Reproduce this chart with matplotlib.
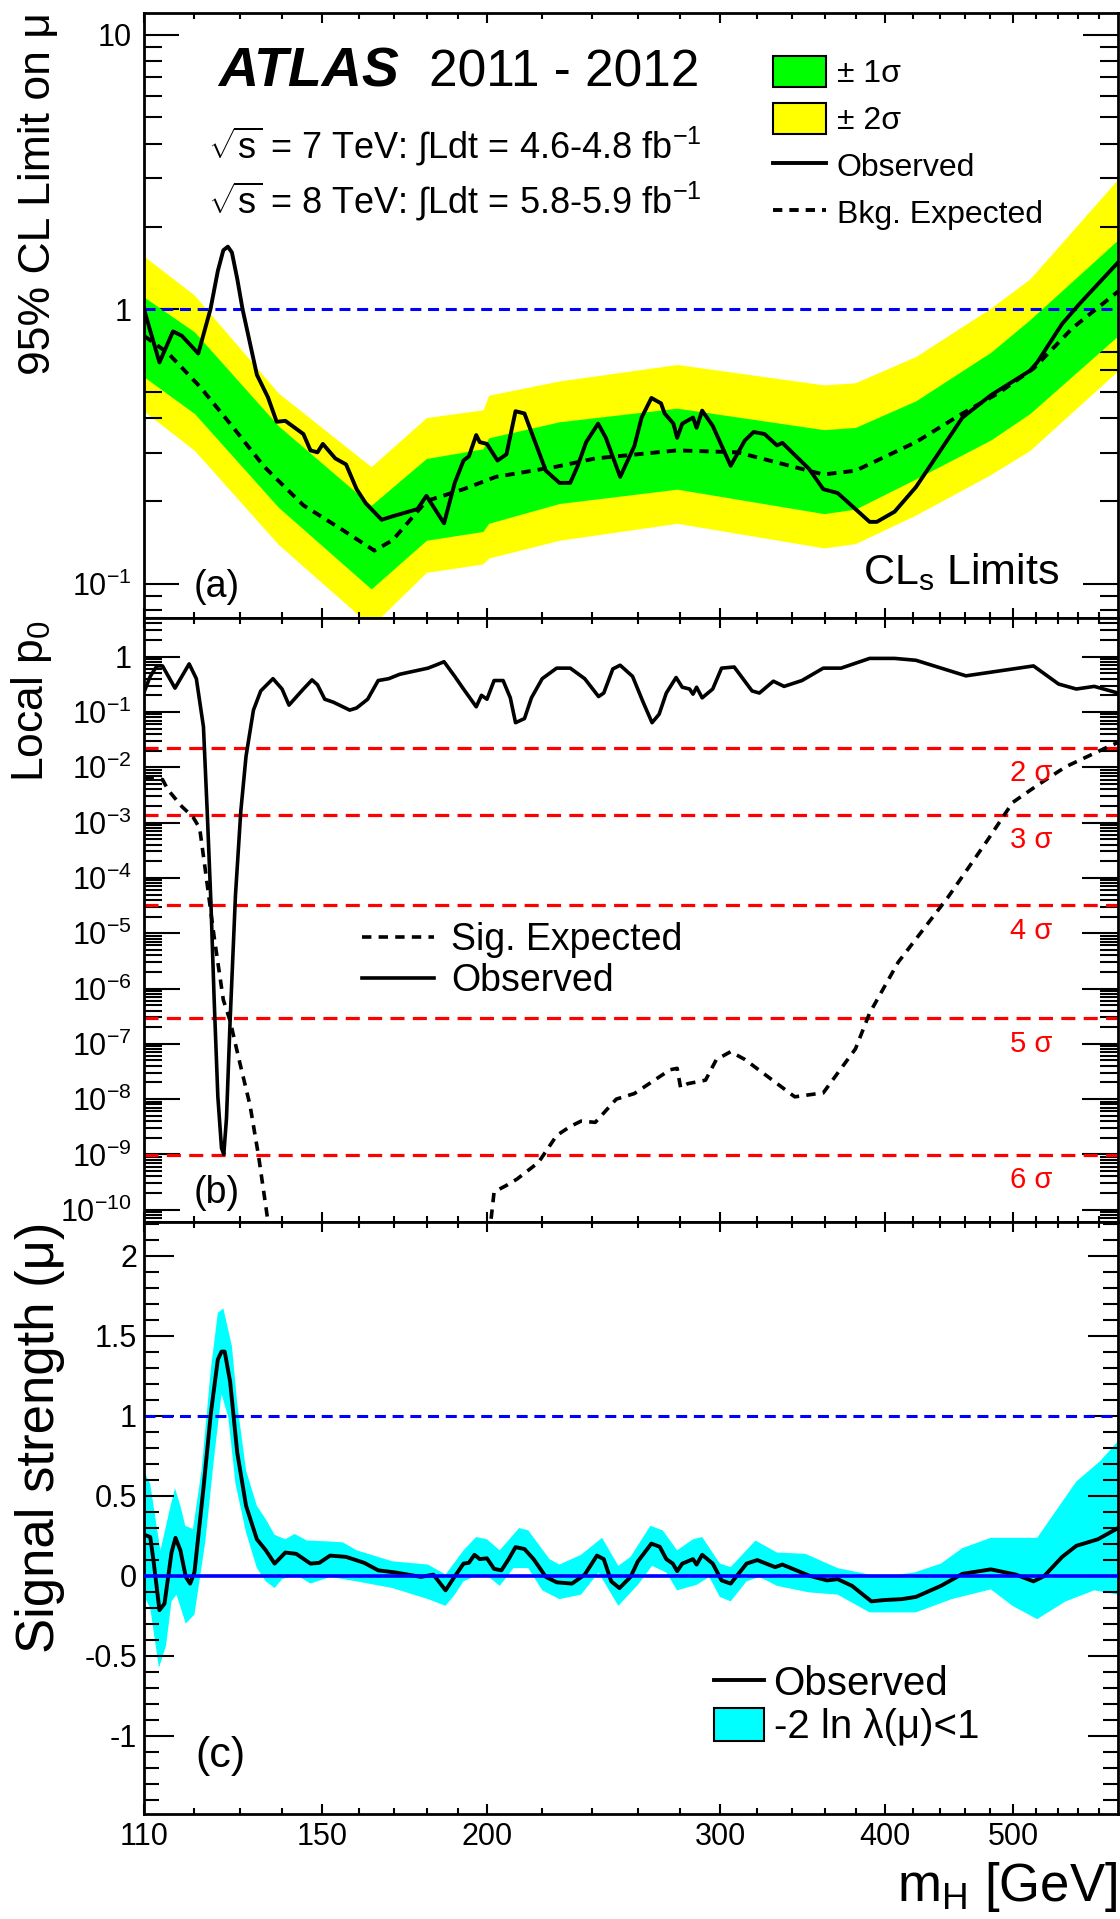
import matplotlib

matplotlib.use("Agg")
import matplotlib.pyplot as plt
import numpy as np
from matplotlib.lines import Line2D
from matplotlib.patches import Patch
from matplotlib.ticker import FixedLocator, FuncFormatter, LogLocator, MultipleLocator, NullFormatter

plt.rcParams.update(
    {
        "font.family": ["Liberation Sans", "DejaVu Sans"],
        "mathtext.fontset": "custom",
        "mathtext.rm": "Liberation Sans",
        "mathtext.it": "Liberation Sans:italic",
        "mathtext.bf": "Liberation Sans:bold",
    }
)

GREEN = "#00ff00"
YELLOW = "#ffff00"
CYAN = "#00ffff"
BLUE = "#0000ff"
RED = "#ff0000"

# --- panel (a): 95% CL limit on mu
lim_mass_obs = [110.0, 111.0, 113.0, 115.7, 117.5, 120.9, 123.5, 125.1, 126.3, 127.3,
                128.2, 129.4, 130.6, 133.9, 136.5, 138.6, 140.7, 145.2, 147.0, 148.8,
                150.2, 153.5, 156.4, 159.3, 161.9, 166.4, 169.6, 177.1, 179.9, 185.5,
                189.0, 191.9, 193.7, 196.2, 197.4, 199.9, 203.6, 206.8, 210.1, 213.4,
                217.4, 221.5, 226.8, 231.1, 234.0, 237.6, 242.6, 245.9, 252.1, 258.4,
                261.7, 266.2, 270.7, 272.4, 276.6, 278.4, 280.9, 286.2, 288.0, 290.8,
                296.2, 305.6, 313.3, 318.1, 324.2, 331.3, 334.4, 350.3, 359.1, 368.2,
                389.3, 394.2, 406.6, 422.0, 457.6, 480.8, 514.7, 521.2, 544.4, 561.5,
                600.0]
lim_obs = [1.00, 0.86, 0.64, 0.83, 0.80, 0.69, 1.00, 1.38, 1.64, 1.69,
           1.61, 1.29, 1.00, 0.577, 0.478, 0.389, 0.392, 0.351, 0.306, 0.301,
           0.323, 0.286, 0.272, 0.221, 0.196, 0.171, 0.176, 0.187, 0.209, 0.166,
           0.233, 0.281, 0.291, 0.348, 0.328, 0.323, 0.281, 0.296, 0.425, 0.417,
           0.328, 0.258, 0.233, 0.233, 0.267, 0.328, 0.383, 0.340, 0.245, 0.317,
           0.403, 0.475, 0.454, 0.417, 0.383, 0.340, 0.383, 0.403, 0.370, 0.427,
           0.376, 0.269, 0.333, 0.357, 0.351, 0.319, 0.326, 0.262, 0.221, 0.214,
           0.168, 0.168, 0.183, 0.225, 0.403, 0.486, 0.597, 0.640, 0.885, 1.05,
           1.48]
lim_mass_exp = [110.0, 114.7, 121.3, 128.2, 135.6, 145.2, 154.5, 164.3, 169.6, 179.9,
                191.9, 203.0, 225.7, 241.4, 278.4, 309.4, 359.1, 379.8, 422.0, 457.6,
                486.9, 517.9, 554.6, 600.0]
lim_exp = [0.80, 0.692, 0.521, 0.376, 0.267, 0.193, 0.160, 0.132, 0.144, 0.200,
           0.221, 0.245, 0.267, 0.286, 0.306, 0.301, 0.250, 0.258, 0.328, 0.417,
           0.494, 0.608, 0.856, 1.16]
band_mass = [110.0, 120.1, 139.0, 163.4, 179.9, 198.5, 200.5, 226.8, 278.4, 359.6,
             379.8, 422.0, 480.8, 514.7, 600.0]
band_2s_up = [1.56, 1.125, 0.495, 0.267, 0.403, 0.43, 0.486, 0.548, 0.629, 0.53,
              0.54, 0.673, 1.01, 1.29, 2.98]
band_1s_up = [1.107, 0.827, 0.376, 0.193, 0.286, 0.31, 0.340, 0.389, 0.436, 0.364,
              0.371, 0.464, 0.697, 0.916, 1.79]
band_1s_lo = [0.567, 0.417, 0.190, 0.0957, 0.144, 0.155, 0.166, 0.196, 0.221, 0.180,
              0.187, 0.241, 0.334, 0.417, 0.80]
band_2s_lo = [0.425, 0.306, 0.139, 0.070, 0.110, 0.118, 0.124, 0.144, 0.166, 0.135,
              0.140, 0.178, 0.250, 0.306, 0.597]

# --- panel (b): local p0
p0_mass_obs = [110.1, 111.2, 112.5, 113.6, 116.1, 119.0, 120.5, 122.0, 122.8, 123.6,
               124.3, 125.1, 125.9, 126.4, 127.0, 127.8, 129.0, 130.2, 131.4, 133.1,
               134.8, 137.7, 139.9, 141.6, 145.2, 147.4, 148.8, 150.7, 153.0, 157.4,
               159.3, 162.4, 165.4, 168.5, 171.7, 180.4, 183.3, 185.5, 189.0, 191.9,
               196.2, 198.0, 199.9, 202.4, 205.6, 208.2, 210.1, 213.4, 216.0, 220.1,
               225.7, 231.1, 237.0, 242.8, 245.0, 248.9, 252.1, 257.6, 262.4, 266.5,
               269.8, 273.2, 277.9, 280.9, 284.5, 286.2, 288.0, 290.8, 296.2, 300.8,
               307.5, 317.2, 321.3, 329.2, 335.4, 346.0, 359.1, 370.4, 389.3, 406.6,
               422.0, 460.4, 517.9, 541.0, 558.0, 575.7, 600.0]
p0_obs = [0.24, 0.44, 0.68, 0.68, 0.27, 0.74, 0.40, 0.054, 1.6e-3, 3.5e-5,
          6.2e-7, 1.1e-8, 1.3e-9, 1.0e-9, 4.6e-9, 2.6e-7, 4.9e-5, 1.6e-3, 0.016, 0.108,
          0.24, 0.40, 0.26, 0.133, 0.26, 0.38, 0.31, 0.17, 0.15, 0.108,
          0.118, 0.17, 0.37, 0.40, 0.48, 0.62, 0.72, 0.81, 0.44, 0.26,
          0.124, 0.20, 0.17, 0.37, 0.37, 0.18, 0.064, 0.076, 0.18, 0.40,
          0.62, 0.62, 0.40, 0.19, 0.22, 0.60, 0.70, 0.44, 0.15, 0.064,
          0.091, 0.22, 0.42, 0.28, 0.26, 0.21, 0.28, 0.18, 0.26, 0.62,
          0.65, 0.24, 0.22, 0.36, 0.29, 0.37, 0.62, 0.62, 0.93, 0.93,
          0.86, 0.45, 0.68, 0.32, 0.26, 0.29, 0.22]
p0_mass_exp = [110.1, 113.6, 114.7, 117.5, 119.8, 121.2, 122.4, 124.3, 126.3, 127.8,
               129.8, 132.3, 134.3, 136.0, 137.5, 199.8, 202.4, 206.8, 210.7, 218.7,
               225.7, 231.1, 235.5, 241.4, 250.4, 258.4, 275.0, 278.4, 280.1, 283.6,
               292.5, 298.1, 305.6, 313.3, 341.7, 359.1, 379.8, 389.3, 409.2, 446.3,
               478.0, 499.3, 521.2, 547.7, 592.0, 600.0]
p0_exp = [6.6e-3, 6.0e-3, 3.9e-3, 1.95e-3, 1.26e-3, 7.9e-4, 1.38e-4, 8.5e-6, 6.2e-7, 2.6e-7,
          5.2e-8, 7.8e-9, 9.3e-10, 1.15e-10, 1.8e-11, 1.3e-11, 2.1e-10, 2.75e-10, 3.6e-10, 7.2e-10,
          2.2e-9, 3.2e-9, 4.0e-9, 3.8e-9, 1.0e-8, 1.26e-8, 3.4e-8, 3.6e-8, 1.6e-8, 1.9e-8,
          2.2e-8, 5.2e-8, 7.2e-8, 5.2e-8, 1.1e-8, 1.3e-8, 8.1e-8, 3.6e-7, 3.0e-6, 4.5e-5,
          4.8e-4, 2.3e-3, 4.7e-3, 0.0102, 0.0245, 0.028]
sigma_n = [2, 3, 4, 5, 6]
sigma_p0 = [0.02275, 1.35e-3, 3.17e-5, 2.87e-7, 9.87e-10]

# --- panel (c): best-fit signal strength
mu_mass = [110.1, 111.2, 111.8, 113.0, 114.0, 115.4, 116.2, 117.2, 118.3, 119.2,
           120.1, 122.0, 123.6, 125.1, 125.9, 126.6, 127.8, 129.4, 131.4, 133.9,
           136.0, 138.1, 140.7, 143.4, 147.0, 149.3, 152.1, 156.4, 161.4, 165.4,
           170.6, 178.2, 182.1, 186.0, 188.4, 191.9, 193.7, 195.6, 197.4, 199.9,
           202.4, 205.0, 207.6, 210.1, 213.4, 216.8, 221.5, 225.7, 231.8, 237.0,
           242.1, 245.0, 248.2, 251.8, 256.7, 260.0, 266.2, 270.1, 273.2, 276.3,
           278.4, 280.9, 283.6, 286.2, 288.0, 290.8, 296.2, 300.8, 305.6, 314.2,
           320.1, 330.2, 334.4, 350.3, 361.4, 368.2, 377.5, 390.5, 399.1, 411.8,
           422.0, 440.8, 457.6, 480.8, 502.3, 517.9, 527.6, 544.4, 558.0, 579.3,
           600.0]
mu_obs = [0.255, 0.241, 0.103, -0.216, -0.175, 0.144, 0.236, 0.158, -0.008, -0.05,
          0.02, 0.546, 1.018, 1.351, 1.40, 1.40, 1.212, 0.768, 0.436, 0.227,
          0.158, 0.075, 0.144, 0.136, 0.075, 0.08, 0.125, 0.117, 0.08, 0.033,
          0.019, -0.008, 0.006, -0.092, -0.022, 0.075, 0.08, 0.13, 0.103, 0.108,
          0.042, 0.033, 0.103, 0.178, 0.166, 0.103, -0.008, -0.042, -0.05, 0.006,
          0.125, 0.103, -0.036, -0.078, -0.008, 0.089, 0.20, 0.18, 0.103, 0.075,
          0.028, 0.075, 0.089, 0.103, 0.069, 0.13, 0.075, -0.03, -0.05, 0.075,
          0.097, 0.053, 0.069, 0.0, -0.03, -0.022, -0.064, -0.161, -0.153, -0.147,
          -0.133, -0.064, 0.011, 0.039, 0.006, -0.036, -0.003, 0.117, 0.186, 0.227,
          0.297]
mu_up_mass = [110.1, 111.2, 112.5, 113.2, 115.0, 116.1, 117.2, 118.2, 119.8, 121.6,
              123.6, 125.1, 126.3, 128.2, 129.4, 131.4, 133.9, 136.0, 138.1, 140.7,
              143.0, 146.1, 151.2, 155.5, 159.3, 169.6, 180.4, 186.0, 191.9, 196.2,
              199.9, 204.4, 211.4, 214.8, 222.9, 226.8, 235.5, 244.3, 251.3, 256.7,
              265.7, 271.5, 278.4, 286.2, 290.8, 299.9, 305.6, 319.1, 331.3, 348.1,
              368.2, 396.7, 420.8, 440.8, 457.6, 480.8, 521.2, 558.0, 581.2, 600.0]
mu_up = [0.644, 0.574, 0.297, 0.158, 0.408, 0.546, 0.436, 0.311, 0.291, 0.657,
         1.295, 1.642, 1.67, 1.434, 1.074, 0.657, 0.436, 0.352, 0.255, 0.227,
         0.26, 0.219, 0.214, 0.208, 0.158, 0.089, 0.069, 0.006, 0.158, 0.241,
         0.227, 0.158, 0.297, 0.283, 0.103, 0.069, 0.13, 0.236, 0.061, 0.117,
         0.311, 0.283, 0.158, 0.227, 0.241, 0.075, 0.053, 0.219, 0.144, 0.136,
         0.047, -0.008, 0.019, 0.075, 0.172, 0.236, 0.236, 0.588, 0.713, 0.84]
mu_lo_mass = [110.1, 111.2, 112.9, 114.3, 115.4, 116.4, 118.3, 120.1, 122.4, 124.3,
              125.9, 127.4, 129.0, 131.4, 133.9, 136.0, 138.1, 139.9, 143.4, 147.0,
              152.1, 159.3, 169.6, 180.4, 186.0, 189.0, 191.9, 196.8, 200.5, 204.4,
              209.4, 214.8, 220.1, 226.8, 235.5, 242.8, 251.3, 260.0, 266.5, 273.2,
              278.4, 288.0, 294.4, 299.9, 305.6, 314.2, 321.3, 331.3, 350.3, 368.2,
              389.3, 422.0, 449.1, 480.8, 499.3, 521.2, 547.7, 575.7, 600.0]
mu_lo = [-0.133, -0.203, -0.577, -0.438, -0.161, -0.119, -0.30, -0.244, 0.214, 0.741,
         1.135, 0.99, 0.574, 0.269, 0.047, -0.036, -0.078, -0.022, 0.006, -0.05,
         -0.008, -0.036, -0.078, -0.147, -0.189, -0.119, -0.036, 0.006, -0.008, -0.064,
         0.047, 0.047, -0.092, -0.147, -0.119, 0.019, -0.189, -0.058, 0.061, 0.019,
         -0.092, -0.058, -0.008, -0.133, -0.161, -0.036, -0.008, -0.064, -0.105, -0.119,
         -0.23, -0.23, -0.147, -0.086, -0.189, -0.272, -0.161, -0.092, -0.119]

x_major = [110, 150, 200, 300, 400, 500]
x_minor = [120, 130, 140, 160, 170, 180, 190, 220, 240, 260, 280, 320, 340, 360, 380,
           420, 440, 460, 480, 520, 540, 560, 580]

W_PX, H_PX = 1120, 1919
LEFT, RIGHT = 144, 1118
TICK_FS = 22


def panel(top, bottom):
    return [LEFT / W_PX, 1 - bottom / H_PX, (RIGHT - LEFT) / W_PX, (bottom - top) / H_PX]


def log_label(v, _):
    k = int(round(np.log10(v)))
    if k == 0:
        return "1"
    if k == 1:
        return "10"
    return r"$\mathdefault{10^{%d}}$" % k


def lin_label(v, _):
    return "0" if abs(v) < 1e-9 else f"{v:g}"


def style(ax, ymaj, ymin, fs=TICK_FS):
    ax.set_xlim(110, 600)
    ax.xaxis.set_major_locator(FixedLocator(x_major))
    ax.xaxis.set_minor_locator(FixedLocator(x_minor))
    ax.xaxis.set_minor_formatter(NullFormatter())
    ax.tick_params(which="both", direction="in", top=True, right=True, width=1.5,
                   labelsize=fs, colors="black")
    ax.tick_params(axis="x", which="major", length=7, pad=6)
    ax.tick_params(axis="x", which="minor", length=4.5)
    ax.tick_params(axis="y", which="major", length=ymaj, pad=9)
    ax.tick_params(axis="y", which="minor", length=ymin)
    for sp in ax.spines.values():
        sp.set_linewidth(2.0)


fig = plt.figure(figsize=(W_PX / 100, H_PX / 100), dpi=100)
ax_a = fig.add_axes(panel(13, 618))
ax_b = fig.add_axes(panel(618, 1222))
ax_c = fig.add_axes(panel(1222, 1814))

for ax in (ax_a, ax_b, ax_c):
    ax.set_xscale("log")

# ---------------- (a)
ax_a.set_yscale("log")
ax_a.fill_between(band_mass, band_2s_lo, band_2s_up, color=YELLOW, lw=0, zorder=1)
ax_a.fill_between(band_mass, band_1s_lo, band_1s_up, color=GREEN, lw=0, zorder=2)
ax_a.axhline(1.0, color=BLUE, lw=2.2, dashes=(3.6, 2.2), zorder=3)
ax_a.plot(lim_mass_exp, lim_exp, color="black", lw=2.8, dashes=(2.4, 1.8), zorder=4)
ax_a.plot(lim_mass_obs, lim_obs, color="black", lw=2.8, zorder=5)
ax_a.set_ylim(0.075, 12)
ax_a.yaxis.set_major_locator(LogLocator(base=10, numticks=10))
ax_a.yaxis.set_minor_locator(LogLocator(base=10, subs=np.arange(2, 10), numticks=30))
ax_a.yaxis.set_major_formatter(FuncFormatter(log_label))
ax_a.yaxis.set_minor_formatter(NullFormatter())
style(ax_a, 25, 13)
ax_a.tick_params(labelbottom=False)

ax_a.text(0.076, 0.879, "ATLAS", transform=ax_a.transAxes, fontsize=40,
          fontweight="bold", fontstyle="italic", va="baseline")
ax_a.text(0.2926, 0.879, "2011 - 2012", transform=ax_a.transAxes, fontsize=37, va="baseline")
ax_a.text(0.0657, 0.760, r"$\sqrt{\mathrm{s}}$ = 7 TeV: $\int$Ldt = 4.6-4.8 fb$^{\mathrm{-1}}$",
          transform=ax_a.transAxes, fontsize=26, va="baseline")
ax_a.text(0.0657, 0.669, r"$\sqrt{\mathrm{s}}$ = 8 TeV: $\int$Ldt = 5.8-5.9 fb$^{\mathrm{-1}}$",
          transform=ax_a.transAxes, fontsize=26, va="baseline")
ax_a.text(0.940, 0.056, r"CL$_{\mathrm{s}}$ Limits", transform=ax_a.transAxes, fontsize=31,
          ha="right", va="baseline")
ax_a.text(0.0513, 0.035, "(a)", transform=ax_a.transAxes, fontsize=27, va="baseline")

handles_a = [
    Patch(facecolor=GREEN, edgecolor="black", linewidth=1.5, label="± 1σ"),
    Patch(facecolor=YELLOW, edgecolor="black", linewidth=1.5, label="± 2σ"),
    Line2D([], [], color="black", lw=2.8, label="Observed"),
    Line2D([], [], color="black", lw=2.8, dashes=(2.4, 1.8), label="Bkg. Expected"),
]
ax_a.legend(handles=handles_a, loc="upper left", bbox_to_anchor=(0.6458, 0.929),
            frameon=False, fontsize=23, borderpad=0, borderaxespad=0,
            handlelength=1.66, handleheight=1.12, labelspacing=0.42, handletextpad=0.34)

# ---------------- (b)
ax_b.set_yscale("log")
for p in sigma_p0:
    ax_b.axhline(p, color=RED, lw=2.3, dashes=(4.4, 2.6), zorder=2)
ax_b.plot(p0_mass_exp, p0_exp, color="black", lw=2.6, dashes=(2.6, 2.0), zorder=3)
ax_b.plot(p0_mass_obs, p0_obs, color="black", lw=2.6, zorder=4)
ax_b.set_ylim(6e-11, 5)
ax_b.yaxis.set_major_locator(LogLocator(base=10, numticks=20))
ax_b.yaxis.set_minor_locator(LogLocator(base=10, subs=np.arange(2, 10), numticks=40))
ax_b.yaxis.set_major_formatter(FuncFormatter(log_label))
ax_b.yaxis.set_minor_formatter(NullFormatter())
style(ax_b, 26, 13)
ax_b.tick_params(labelbottom=False)
for n, p in zip(sigma_n, sigma_p0):
    ax_b.text(0.933, p * 10 ** -0.2, f"{n} σ", transform=ax_b.get_yaxis_transform(),
              color=RED, fontsize=21, ha="right", va="top")
ax_b.text(0.0513, 0.0315, "(b)", transform=ax_b.transAxes, fontsize=27, va="baseline")
handles_b = [
    Line2D([], [], color="black", lw=2.6, dashes=(2.6, 2.0), label="Sig. Expected"),
    Line2D([], [], color="black", lw=2.6, label="Observed"),
]
ax_b.legend(handles=handles_b, loc="upper left", bbox_to_anchor=(0.2238, 0.496),
            frameon=False, fontsize=27, borderpad=0, borderaxespad=0,
            handlelength=1.92, handleheight=0.7, labelspacing=0.13, handletextpad=0.45)

# ---------------- (c)
ax_c.fill(np.concatenate([mu_up_mass, mu_lo_mass[::-1]]),
          np.concatenate([mu_up, mu_lo[::-1]]), color=CYAN, lw=0, zorder=1)
ax_c.axhline(1.0, color=BLUE, lw=2.2, dashes=(3.6, 2.2), zorder=2)
ax_c.plot(mu_mass, mu_obs, color="black", lw=2.8, zorder=3)
ax_c.axhline(0.0, color=BLUE, lw=2.6, zorder=4)
ax_c.set_ylim(-1.49, 2.21)
ax_c.yaxis.set_major_locator(MultipleLocator(0.5))
ax_c.yaxis.set_minor_locator(MultipleLocator(0.1))
ax_c.yaxis.set_major_formatter(FuncFormatter(lin_label))
style(ax_c, 21.5, 11)
ax_c.xaxis.set_major_formatter(FuncFormatter(lambda v, _: f"{v:.0f}"))
ax_c.tick_params(axis="y", which="major", pad=5)
ax_c.text(0.0524, 0.079, "(c)", transform=ax_c.transAxes, fontsize=31, va="baseline")
handles_c = [
    Line2D([], [], color="black", lw=2.8, label="Observed"),
    Patch(facecolor=CYAN, edgecolor="black", linewidth=1.5, label="-2 ln λ(μ)<1"),
]
ax_c.legend(handles=handles_c, loc="upper left", bbox_to_anchor=(0.5852, 0.252),
            frameon=False, fontsize=29, borderpad=0, borderaxespad=0,
            handlelength=1.24, handleheight=0.87, labelspacing=0.12, handletextpad=0.24)

# axis titles, ROOT style (aligned to the top / right end)
fig.text(50 / W_PX, 1 - 12 / H_PX, "95% CL Limit on μ", rotation=90, rotation_mode="anchor",
         ha="right", va="baseline", fontsize=32)
fig.text(43 / W_PX, 1 - 620 / H_PX, r"Local p$_{\mathrm{0}}$", rotation=90,
         rotation_mode="anchor", ha="right", va="baseline", fontsize=32)
fig.text(54 / W_PX, 1 - 1222 / H_PX, "Signal strength (μ)", rotation=90,
         rotation_mode="anchor", ha="right", va="baseline", fontsize=38)
fig.text(1117 / W_PX, 1 - 1901 / H_PX, r"m$_{\mathrm{H}}$ [GeV]", ha="right",
         va="baseline", fontsize=38)

fig.savefig("out.png", dpi=100, facecolor="white")
